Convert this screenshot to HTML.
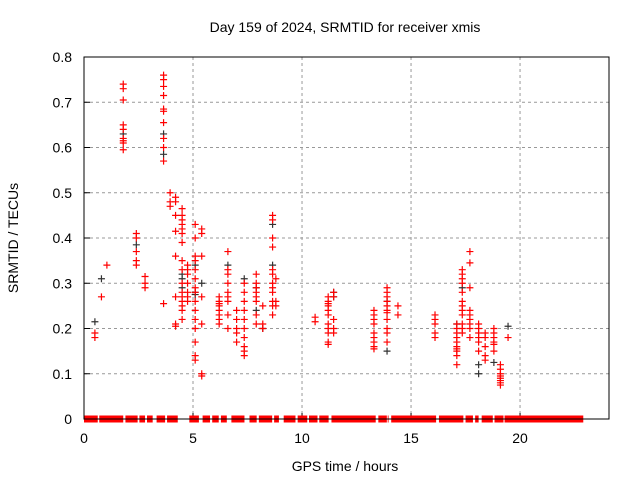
<!DOCTYPE html>
<html><head><meta charset="utf-8"><style>
body{margin:0;background:#fff}
svg{display:block;font-family:"Liberation Sans",sans-serif}
</style></head><body>
<svg id="chart" width="640" height="480">
<text x="345" y="32" font-size="14" text-anchor="middle">Day 159 of 2024, SRMTID for receiver xmis</text>
<text x="345" y="471" font-size="14" text-anchor="middle">GPS time / hours</text>
<text transform="translate(18,238) rotate(-90)" font-size="14" text-anchor="middle">SRMTID / TECUs</text>
<g id="grid"></g>
<g id="ticks"></g>
<g id="marks"></g>
<rect x="84" y="57" width="525" height="362" fill="none" stroke="#000" stroke-width="1"/>
</svg>
<script>
const xTicks=[0,5,10,15,20];
const yTicks=[0,0.1,0.2,0.3,0.4,0.5,0.6,0.7,0.8];
const yTickLabels=["0","0.1","0.2","0.3","0.4","0.5","0.6","0.7","0.8"];
const zeroSegStart=[0,0.70,1.90,2.54,2.89,3.33,3.81,4.83,5.44,5.88,6.28,6.76,7.59,8.02,8.72,9.16,9.8,10.32,10.79,11.35,13.5,13.93,14.09,16.28,17.5,17.94,18.24,18.83,19.29];
const zeroSegEnd=[0.63,1.80,2.46,2.80,3.15,3.72,4.30,5.27,5.78,6.18,6.55,7.36,7.92,8.63,8.94,9.7,10.24,10.71,11.22,13.38,13.89,13.97,16.15,17.4,17.84,18.1,18.75,19.24,22.9];
const redT=[0.5,0.5,0.8,1.05,1.8,1.8,1.8,1.8,1.8,1.8,1.8,1.8,1.8,2.4,2.4,2.4,2.4,2.4,2.8,2.8,2.8,3.65,3.65,3.65,3.65,3.65,3.65,3.65,3.65,3.65,3.65,3.65,3.95,3.95,3.95,4.2,4.2,4.2,4.2,4.2,4.2,4.2,4.2,4.5,4.5,4.5,4.5,4.5,4.5,4.5,4.5,4.5,4.5,4.5,4.5,4.5,4.5,4.5,4.5,4.75,4.75,4.75,4.75,4.75,4.75,4.75,5.1,5.1,5.1,5.1,5.1,5.1,5.1,5.1,5.1,5.1,5.1,5.1,5.1,5.1,5.1,5.4,5.4,5.4,5.4,5.4,5.4,5.4,6.2,6.2,6.2,6.2,6.2,6.2,6.2,6.2,6.6,6.6,6.6,6.6,6.6,6.6,6.6,6.6,6.6,7,7,7,7,7,7.35,7.35,7.35,7.35,7.35,7.35,7.35,7.35,7.35,7.35,7.9,7.9,7.9,7.9,7.9,7.9,7.9,7.9,8.2,8.2,8.2,8.65,8.65,8.65,8.65,8.65,8.65,8.65,8.65,8.65,8.65,8.65,8.65,8.8,8.8,8.8,10.6,10.6,11.2,11.2,11.2,11.2,11.2,11.2,11.2,11.2,11.2,11.2,11.2,11.45,11.45,11.45,11.45,11.45,13.3,13.3,13.3,13.3,13.3,13.3,13.3,13.3,13.3,13.9,13.9,13.9,13.9,13.9,13.9,13.9,13.9,13.9,13.9,13.9,14.4,14.4,16.1,16.1,16.1,16.1,16.1,17.1,17.1,17.1,17.1,17.1,17.1,17.1,17.1,17.1,17.1,17.35,17.35,17.35,17.35,17.35,17.35,17.35,17.35,17.35,17.35,17.35,17.35,17.7,17.7,17.7,17.7,17.7,17.7,17.7,17.7,17.7,18.1,18.1,18.1,18.1,18.1,18.1,18.4,18.4,18.4,18.4,18.4,18.8,18.8,18.8,18.8,18.8,18.8,19.1,19.1,19.1,19.1,19.1,19.1,19.1,19.1,19.45];
const redV=[0.19,0.18,0.27,0.34,0.74,0.73,0.705,0.65,0.64,0.62,0.61,0.615,0.595,0.41,0.40,0.37,0.35,0.34,0.315,0.30,0.29,0.76,0.75,0.735,0.715,0.68,0.685,0.655,0.62,0.60,0.57,0.255,0.50,0.48,0.47,0.49,0.48,0.45,0.415,0.36,0.27,0.21,0.205,0.465,0.45,0.44,0.43,0.42,0.41,0.39,0.35,0.33,0.30,0.28,0.27,0.26,0.25,0.24,0.22,0.34,0.33,0.32,0.30,0.28,0.27,0.26,0.43,0.40,0.36,0.35,0.33,0.31,0.29,0.28,0.26,0.24,0.22,0.20,0.17,0.14,0.13,0.42,0.41,0.36,0.27,0.21,0.10,0.095,0.27,0.26,0.255,0.25,0.24,0.23,0.22,0.21,0.37,0.33,0.32,0.30,0.28,0.27,0.26,0.23,0.20,0.24,0.22,0.20,0.19,0.17,0.30,0.28,0.26,0.24,0.22,0.20,0.18,0.16,0.15,0.14,0.32,0.30,0.29,0.28,0.27,0.26,0.23,0.21,0.25,0.21,0.20,0.45,0.44,0.40,0.38,0.33,0.32,0.30,0.29,0.28,0.26,0.25,0.23,0.31,0.26,0.25,0.225,0.215,0.27,0.26,0.255,0.25,0.24,0.23,0.21,0.20,0.19,0.17,0.165,0.28,0.27,0.22,0.20,0.19,0.24,0.23,0.22,0.21,0.19,0.18,0.17,0.16,0.155,0.29,0.28,0.27,0.26,0.25,0.24,0.235,0.22,0.20,0.19,0.17,0.25,0.23,0.23,0.22,0.21,0.19,0.18,0.21,0.20,0.19,0.18,0.17,0.16,0.155,0.15,0.14,0.12,0.33,0.32,0.31,0.30,0.28,0.26,0.25,0.24,0.23,0.21,0.20,0.19,0.37,0.345,0.29,0.24,0.23,0.22,0.21,0.20,0.18,0.21,0.20,0.19,0.18,0.17,0.15,0.19,0.18,0.16,0.14,0.13,0.20,0.19,0.18,0.17,0.165,0.15,0.12,0.11,0.10,0.095,0.09,0.085,0.08,0.075,0.18];
const blackT=[0.5,0.8,1.8,2.4,3.65,3.65,4.5,4.5,4.5,5.1,5.1,5.1,5.4,6.6,7.35,7.9,7.9,8.2,8.65,8.65,11.45,11.45,13.9,13.9,17.1,17.35,18.1,18.1,18.8,19.45];
const blackV=[0.215,0.31,0.63,0.385,0.63,0.585,0.32,0.31,0.29,0.275,0.28,0.34,0.30,0.34,0.31,0.24,0.29,0.20,0.43,0.34,0.27,0.28,0.15,0.26,0.21,0.29,0.10,0.12,0.125,0.205];

const L=84,R=609,T=57,B=419,XMAX=24.08,YMAX=0.8;
const sx=h=>L+(R-L)*h/XMAX, sy=v=>B-(B-T)*v/YMAX;
const NS="http://www.w3.org/2000/svg";
function mk(tag,attrs,parent){const e=document.createElementNS(NS,tag);for(const k in attrs)e.setAttribute(k,attrs[k]);parent.appendChild(e);return e;}
const grid=document.getElementById('grid'),ticks=document.getElementById('ticks'),marks=document.getElementById('marks');
xTicks.forEach(t=>{const x=sx(t);
 if(t>0){const g=mk('line',{x1:x,x2:x,y1:T,y2:B,stroke:'#999','stroke-dasharray':'3,3'},grid);
 
 }
 const tk=mk('line',{x1:x,x2:x,y1:B,y2:B-6,stroke:'#000'},ticks);
 
 
 const lb=mk('text',{x:x,y:B+24,'font-size':14,'text-anchor':'middle'},ticks);lb.textContent=t;
 
 
});
yTicks.forEach((t,i)=>{const y=sy(t);
 if(t>0&&t<YMAX){const g=mk('line',{x1:L,x2:R,y1:y,y2:y,stroke:'#999','stroke-dasharray':'3,3'},grid);
 
 }
 const tk=mk('line',{x1:L,x2:L+6,y1:y,y2:y,stroke:'#000'},ticks);
 
 
 const lb=mk('text',{x:L-12,y:y+5,'font-size':14,'text-anchor':'end'},ticks);lb.textContent=yTickLabels[i];
 
 
});
function plus(h,v,c,name){const x=sx(h),y=sy(v);
 const p=mk('path',{d:`M${x-3.5},${y}H${x+3.5}M${x},${y-3.5}V${y+3.5}`,stroke:c,'stroke-width':1.2,fill:'none'},marks);
 
 }
blackT.forEach((h,i)=>plus(h,blackV[i],'#333','black-point'));
redT.forEach((h,i)=>plus(h,redV[i],'#f00','red-point'));
zeroSegStart.forEach((s,i)=>{const x1=sx(s),x2=sx(zeroSegEnd[i]);
 const r=mk('rect',{x:x1,y:sy(0)-3.5,width:x2-x1,height:7,fill:'#f00'},marks);
 
 
});
mk('line',{x1:L,x2:R,y1:B,y2:B,stroke:'#000'},marks);
</script>
</body></html>
